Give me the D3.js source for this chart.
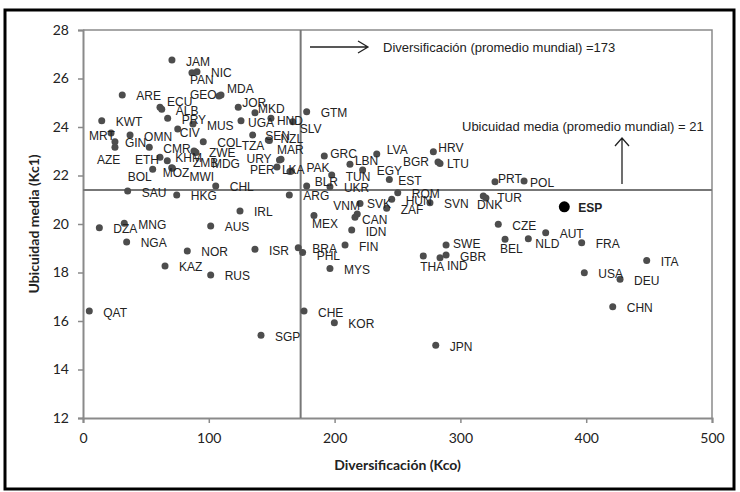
<!DOCTYPE html>
<html>
<head>
<meta charset="utf-8">
<script src="https://cdn.jsdelivr.net/npm/d3@7"></script>
<style>
  body { margin: 0; background: #fff; }
  .pt-label { font-family: "Liberation Sans", Arial, sans-serif; font-size: 12px; fill: #222; }
  .tick text { font-family: Lato, "Open Sans", sans-serif; font-size: 14px; fill: #222; }
  .axis-title { font-family: Lato, "Open Sans", sans-serif; font-size: 14px; font-weight: bold; fill: #222; }
  .note { font-family: "Liberation Sans", Arial, sans-serif; font-size: 13px; fill: #222; }
</style>
</head>
<body>
<div id="chart"></div>
<script>
// Countries, diversification (Kco) and mean ubiquity (Kc1)
const countries = ["JAM","PAN","NIC","ARE","ECU","ALB","GEO","MDA","JOR","MKD",
  "KWT","PRY","MUS","UGA","HND","SLV","GTM","MRT","OMN","GIN",
  "AZE","CIV","CMR","COL","TZA","SEN","NZL","MAR","URY","PER",
  "LKA","PAK","BLR","UKR","ARG","GRC","LBN","TUN","LVA","EGY",
  "EST","HRV","LTU","BGR","PRT","POL","ROM","HUN","ZAF","SVN",
  "TUR","DNK","SVK","VNM","CAN","MEX","IDN","FIN","BRA","PHL",
  "ISR","MYS","IRL","AUS","NOR","KAZ","RUS","SAU","HKG","CHL",
  "DZA","MNG","NGA","QAT","SGP","CHE","KOR","JPN","SWE","GBR",
  "THA","IND","CZE","BEL","NLD","AUT","ESP","FRA","ITA","USA",
  "DEU","CHN","ETH","KHM","ZWE","ZMB","MDG","MOZ","MWI","BOL"];

const kco = [70.7,86.6,90.6,31.2,61.2,62.6,108.1,109.7,123.4,136.7,
  14.9,67.3,87.4,125.6,149.4,166.7,177.8,22.3,37.4,25.4,
  25.4,75.3,52.7,95.6,134.9,147.3,148.2,157.4,156.2,154.2,
  164.5,165.7,177.8,196.3,164.0,191.8,212.2,197.7,233.5,222.3,
  243.5,278.5,283.8,282.2,327.5,350.6,250.2,245.4,241.4,275.8,
  318.2,320.3,220.2,218.0,216.2,183.6,213.6,208.3,171.1,174.6,
  136.7,196.3,124.8,101.5,82.9,65.2,101.5,35.5,74.5,105.5,
  13.0,32.8,34.7,5.0,141.5,175.7,199.8,280.4,288.6,288.6,
  270.5,283.8,330.1,335.5,354.0,367.8,382.6,396.4,448.1,398.5,
  426.9,421.1,61.2,67.0,89.0,89.8,88.2,70.5,71.1,55.4];

const kc1 = [26.76,26.24,26.28,25.32,24.81,24.73,25.28,25.32,24.81,24.59,
  24.26,24.36,24.12,24.26,24.36,24.22,24.63,23.75,23.67,23.39,
  23.16,23.92,23.16,23.39,23.67,23.46,23.44,22.67,22.64,22.35,
  22.16,22.19,21.57,21.54,21.20,22.80,22.46,22.02,22.89,22.23,
  21.84,22.98,22.50,22.56,21.74,21.77,21.29,21.02,20.65,20.88,
  21.15,21.07,20.85,20.41,20.28,20.35,19.75,19.13,19.02,18.82,
  18.96,18.17,20.54,19.92,18.89,18.27,17.90,21.36,21.20,21.57,
  19.85,20.03,19.26,16.41,15.41,16.41,15.93,15.00,19.13,18.72,
  18.68,18.61,19.99,19.37,19.39,19.64,20.71,19.23,18.49,17.99,
  17.72,16.59,22.75,22.61,22.98,22.95,23.01,22.32,22.30,22.26];

const highlight = "ESP";
const worldMeanKco = 173;
const worldMeanKc1 = 21.4;   // line as drawn in the figure; note reads 21

const xTicks = [0, 100, 200, 300, 400, 500];
const yTicks = [12, 14, 16, 18, 20, 22, 24, 26, 28];

// hand placed label shifts (px) where the label is not right of the dot
const labelNudge = {
  PAN:[-14,7], ECU:[-5,-6], GEO:[-41,-1], MDA:[-6,-6], JOR:[-8,-5], MKD:[-9,-4],
  UGA:[-5,2], HND:[-6,2], SLV:[-5,7], MRT:[-34,2], GIN:[-2,1], AZE:[-30,12],
  CIV:[-10,4], TZA:[-23,10], SEN:[-15,-5], NZL:[-1,-2], MAR:[-16,-10], URY:[-45,-1],
  PER:[-39,2], LKA:[-20,-2], PAK:[3,-3], BLR:[-4,-4], GRC:[-6,-3], LBN:[-7,-4],
  LVA:[-2,-4], EST:[-3,1], HRV:[-7,-4], LTU:[-5,0], BGR:[-47,0], PRT:[-9,-3],
  POL:[-6,1], DNK:[-21,6], SVK:[-5,0], VNM:[-36,-9], CAN:[-5,2], MEX:[-14,8],
  PHL:[2,3], SWE:[-5,-2], THA:[-15,10], IND:[-5,8], BEL:[-17,9], NLD:[-5,5],
  ETH:[-37,2], KHM:[-4,-3], ZMB:[-15,10], MDG:[6,12], MOZ:[-21,5], MWI:[5,8],
  BOL:[-37,7]
};

const W = 740, H = 492;
const svg = d3.select("#chart").append("svg")
  .attr("width", W).attr("height", H);

// outer black frame
svg.append("rect")
  .attr("x", 5).attr("y", 10).attr("width", 729).attr("height", 479)
  .attr("fill", "none").attr("stroke", "#000").attr("stroke-width", 3);

const x = d3.scaleLinear().domain([0, 500]).range([83, 712]);
const y = d3.scaleLinear().domain([12, 28]).range([418, 30]);

// plot frame (top and right)
svg.append("path")
  .attr("d", `M${x(0)},${y(28)}H${x(500)}V${y(12)}`)
  .attr("fill", "none").attr("stroke", "#8a8a8a").attr("stroke-width", 1.5);

const xAxis = svg.append("g")
  .attr("transform", `translate(0,${y(12)})`)
  .call(d3.axisBottom(x).tickValues(xTicks).tickSize(5).tickPadding(10));
const yAxis = svg.append("g")
  .attr("transform", `translate(${x(0)},0)`)
  .call(d3.axisLeft(y).tickValues(yTicks).tickSize(5).tickPadding(9));
[xAxis, yAxis].forEach(g => {
  g.select(".domain").attr("stroke", "#8a8a8a").attr("stroke-width", 2);
  g.selectAll(".tick line").attr("stroke", "#8a8a8a").attr("stroke-width", 1.5);
});

// world average lines
svg.append("line")
  .attr("x1", x(worldMeanKco)).attr("x2", x(worldMeanKco))
  .attr("y1", y(28)).attr("y2", y(12))
  .attr("stroke", "#777").attr("stroke-width", 2);
svg.append("line")
  .attr("x1", x(0)).attr("x2", x(500))
  .attr("y1", y(worldMeanKc1)).attr("y2", y(worldMeanKc1))
  .attr("stroke", "#777").attr("stroke-width", 2);

// axis titles
svg.append("text").attr("class", "axis-title")
  .attr("x", (x(0) + x(500)) / 2).attr("y", 470)
  .attr("text-anchor", "middle").text("Diversificación (Kco)");
svg.append("text").attr("class", "axis-title")
  .attr("transform", `translate(39,${(y(12) + y(28)) / 2}) rotate(-90)`)
  .attr("text-anchor", "middle").text("Ubicuidad media (Kc1)");

// annotations with arrows
const arrowY = 47;
svg.append("path")
  .attr("d", `M310,${arrowY}H368M358,${arrowY - 6}L368,${arrowY}L358,${arrowY + 6}`)
  .attr("fill", "none").attr("stroke", "#222").attr("stroke-width", 1.3);
svg.append("text").attr("class", "note")
  .attr("x", 383).attr("y", arrowY + 5)
  .text("Diversificación (promedio mundial) =173");

svg.append("path")
  .attr("d", `M622,${y(worldMeanKc1) - 6}V138M615,146L622,138L629,146`)
  .attr("fill", "none").attr("stroke", "#222").attr("stroke-width", 1.3);
svg.append("text").attr("class", "note")
  .attr("x", 462).attr("y", 131)
  .text("Ubicuidad media  (promedio mundial) = 21");

// points
const data = countries.map((c, i) => ({ code: c, kco: kco[i], kc1: kc1[i] }));

svg.selectAll(".dot")
  .data(data)
  .enter()
  .append("circle")
  .attr("class", "dot")
  .attr("cx", d => x(d.kco))
  .attr("cy", d => y(d.kc1))
  .attr("r", d => d.code === highlight ? 5.5 : 3.5)
  .attr("fill", d => d.code === highlight ? "#000" : "#4d4d4d");

svg.selectAll(".pt-label")
  .data(data)
  .enter()
  .append("text")
  .attr("class", "pt-label")
  .attr("x", d => x(d.kco) + 12 + (labelNudge[d.code] ? labelNudge[d.code][0] : 2))
  .attr("y", d => y(d.kc1) + 4.5 + (labelNudge[d.code] ? labelNudge[d.code][1] : 1))
  .style("font-weight", d => d.code === highlight ? "bold" : "normal")
  .text(d => d.code);
</script>
</body>
</html>
